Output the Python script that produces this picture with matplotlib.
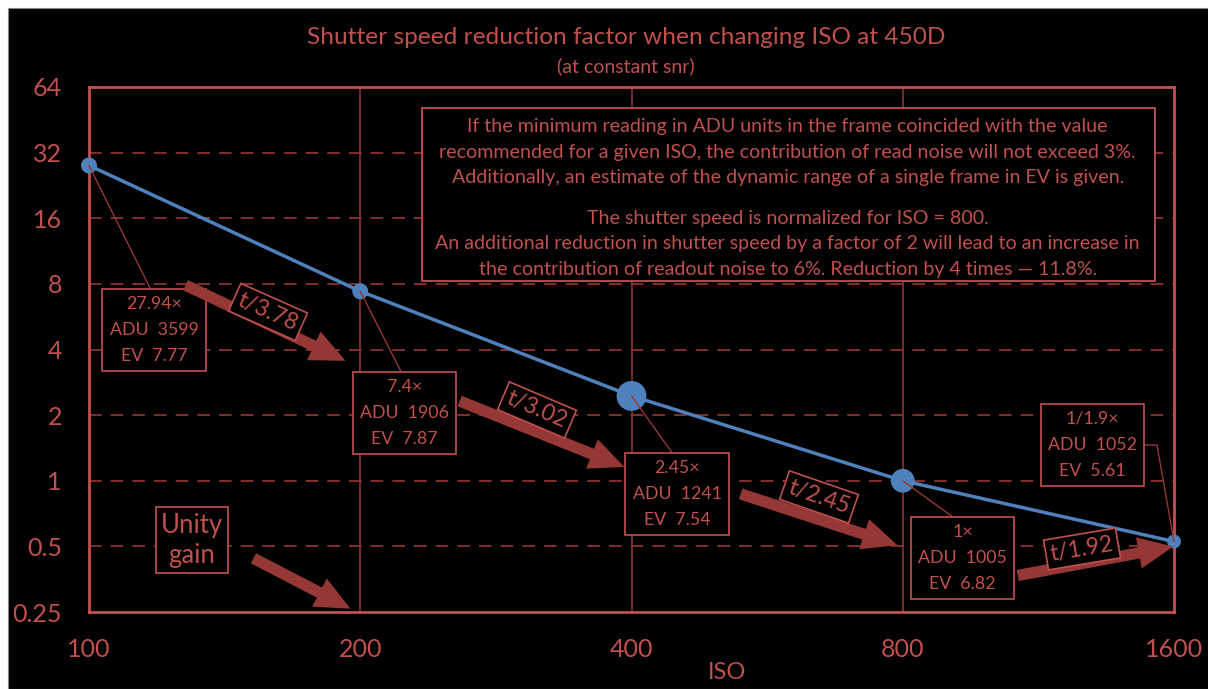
import numpy as np
import matplotlib.pyplot as plt
from matplotlib.patches import FancyArrowPatch, Rectangle

plt.rcParams['font.family'] = ['Lato', 'DejaVu Sans']

# data
iso = [100, 200, 400, 800, 1600]
factor = [27.94, 7.4, 2.45, 1.0, 1 / 1.9]
adu = [3599, 1906, 1241, 1005, 1052]
ev = [7.77, 7.87, 7.54, 6.82, 5.61]
factor_labels = ['27.94×', '7.4×', '2.45×', '1×', '1/1.9×']
step_labels = ['t/3.78', 't/3.02', 't/2.45', 't/1.92']
y_ticks = [0.25, 0.5, 1, 2, 4, 8, 16, 32, 64]
y_tick_labels = ['0.25', '0.5', '1', '2', '4', '8', '16', '32', '64']
marker_sizes = [110, 110, 420, 260, 80]

TXT = '#C0504D'
ARR = '#953735'
GRID = '#8A3331'
BLUE = '#4F81BD'

fig = plt.figure(figsize=(12.08, 6.89), dpi=100, facecolor='white')
fig.patches.append(Rectangle((8 / 1208, 0), 1, 681 / 689, transform=fig.transFigure,
                             facecolor='black', edgecolor='#888888', lw=0.8, zorder=-10))

ax = fig.add_axes([89 / 1208, 77 / 689, 1085 / 1208, 525 / 689])
ax.set_facecolor('black')
ax.set_xscale('log', base=2)
ax.set_yscale('log', base=2)
ax.set_xlim(100, 1600)
ax.set_ylim(0.25, 64)

ax.set_xticks(iso)
ax.set_xticklabels([str(v) for v in iso])
ax.set_yticks(y_ticks)
ax.set_yticklabels(y_tick_labels)
ax.minorticks_off()
ax.tick_params(length=0, colors=TXT, labelsize=18)
ax.tick_params(axis='x', pad=19)
ax.tick_params(axis='y', pad=19.5)
for s in ax.spines.values():
    s.set_color(TXT)
    s.set_linewidth(2)

# grid
for v in y_ticks[1:-1]:
    ax.axhline(v, color=GRID, lw=1.3, ls=(0, (7, 5)), zorder=1)
for v in iso[1:-1]:
    ax.axvline(v, color=GRID, lw=1.2, zorder=1)

ax.set_xlabel('ISO', color=TXT, fontsize=17)
ax.xaxis.set_label_coords(0.588, -0.095)

fig.text(0.518, 0.945, 'Shutter speed reduction factor when changing ISO at 450D',
         color=TXT, fontsize=17.6, ha='center', va='center')
fig.text(0.518, 0.904, '(at constant snr)', color=TXT, fontsize=14, ha='center', va='center')

# curve
ax.plot(iso, factor, color=BLUE, lw=2.5, zorder=3)
ax.scatter(iso, factor, s=marker_sizes, color=BLUE, zorder=4, clip_on=False)

# info boxes
box_pos = [(0.0599, 0.537), (0.291, 0.379), (0.542, 0.225), (0.805, 0.103), (0.925, 0.318)]
box_rel = [(0.5, 1), (0.5, 1), (0.5, 1), (0.5, 1), (1, 0.5)]
for i in range(len(iso)):
    txt = f'{factor_labels[i]}\nADU  {adu[i]}\nEV  {ev[i]:.2f}'
    conn = 'arc3' if i < 4 else 'angle,angleA=0,angleB=100,rad=0'
    ax.annotate(txt, xy=(iso[i], factor[i]), xycoords='data',
                xytext=box_pos[i], textcoords='axes fraction',
                ha='center', va='center', color=TXT, fontsize=12.8, linespacing=1.78,
                bbox=dict(boxstyle='square,pad=0.4', fc='black', ec=TXT, lw=1.2),
                arrowprops=dict(arrowstyle='-', color=ARR, lw=1, shrinkA=0, shrinkB=0,
                                relpos=box_rel[i], connectionstyle=conn),
                zorder=5)

note = ('If the minimum reading in ADU units in the frame coincided with the value\n'
        'recommended for a given ISO, the contribution of read noise will not exceed 3%.\n'
        'Additionally, an estimate of the dynamic range of a single frame in EV is given.')
note2 = ('The shutter speed is normalized for ISO = 800.\n'
         'An additional reduction in shutter speed by a factor of 2 will lead to an increase in\n'
         'the contribution of readout noise to 6%. Reduction by 4 times — 11.8%.')
ax.add_patch(Rectangle(((422 - 89) / 1085, (612 - 281) / 525), 733 / 1085, 173 / 525,
                       transform=ax.transAxes, fc='black', ec=TXT, lw=1.3, zorder=5))
ax.text(0.644, 0.876, note, transform=ax.transAxes, ha='center', va='center',
        color=TXT, fontsize=14.1, linespacing=1.62, zorder=6)
ax.text(0.644, 0.701, note2, transform=ax.transAxes, ha='center', va='center',
        color=TXT, fontsize=14.1, linespacing=1.62, zorder=6)

# step arrows (pixel start/end inside the axes box)
arrows = [((183, 284), (348, 362)), ((457, 400), (627, 468)), ((738, 493), (900, 546)),
          ((1015, 576), (1176, 546))]
label_pos = [(268, 312, -24), (537, 410, -23), (819, 497, -19), (1082, 549, 9.5)]
ARROW_STYLE = 'simple,head_length=2.1,head_width=1.9,tail_width=0.68'


def px(p):
    return ((p[0] - 89) / 1085, (612 - p[1]) / 525)


for (a, b), (lx, ly, rot), lab in zip(arrows, label_pos, step_labels):
    ax.add_patch(FancyArrowPatch(px(a), px(b), transform=ax.transAxes,
                                 arrowstyle=ARROW_STYLE,
                                 mutation_scale=12, color=ARR, lw=0, zorder=6, clip_on=False))
    lxf, lyf = px((lx, ly))
    ax.text(lxf, lyf, lab, transform=ax.transAxes, rotation=rot, rotation_mode='anchor',
            ha='center', va='center', color=TXT, fontsize=16.5,
            bbox=dict(boxstyle='square,pad=0.2', fc='black', ec=TXT, lw=1.2), zorder=7)

# unity gain
ux, uy = px((192, 540))
ax.text(ux, uy, 'Unity\ngain', transform=ax.transAxes, ha='center', va='center',
        color=TXT, fontsize=18.5, linespacing=1.25,
        bbox=dict(boxstyle='square,pad=0.2', fc='black', ec=TXT, lw=1.2), zorder=6)
ax.add_patch(FancyArrowPatch(px((251, 557)), px((353, 610)), transform=ax.transAxes,
                             arrowstyle=ARROW_STYLE,
                             mutation_scale=12, color=ARR, lw=0, zorder=6, clip_on=False))

fig.savefig('out.png', dpi=100, facecolor=fig.get_facecolor())
